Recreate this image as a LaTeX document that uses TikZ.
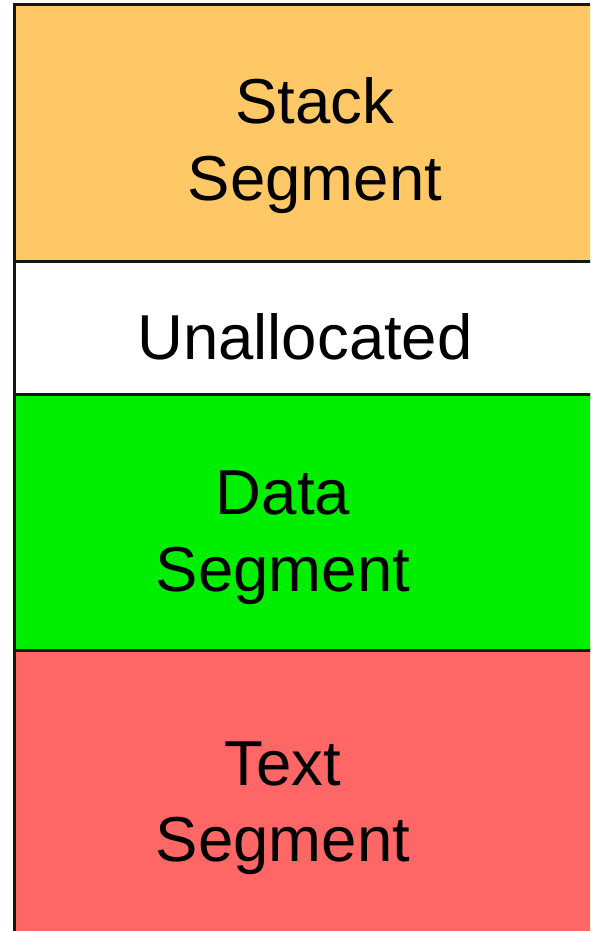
\documentclass[tikz,border=0pt]{standalone}
\usepackage{fontspec}
\setmainfont{Liberation Sans}
\definecolor{stackcol}{HTML}{FDC865}
\definecolor{datacol}{HTML}{00EE00}
\definecolor{textcol}{HTML}{FF6666}
\definecolor{edgecol}{HTML}{0F1A10}
\begin{document}
\begin{tikzpicture}[x=1pt,y=-1pt,
  edge/.style={draw=edgecol,line width=3pt},
  lbl/.style={anchor=base,inner sep=0pt,font=\fontsize{63.5}{76}\selectfont}]
\useasboundingbox (0,0) rectangle (590,931);
\clip (0,0) rectangle (590,931);
% memory segments, top to bottom: fills first
\fill[stackcol] (14.5,5) rectangle (620,261) coordinate (stack);
\fill[white] (14.5,261) rectangle (620,394) coordinate (unalloc);
\fill[datacol] (14.5,394) rectangle (620,650) coordinate (data);
\fill[textcol] (14.5,650) rectangle (620,960) coordinate (textseg);
% then the borders on top
\draw[edge] (14.5,5) rectangle (620,261);
\draw[edge] (14.5,261) rectangle (620,394);
\draw[edge] (14.5,394) rectangle (620,650);
\draw[edge] (14.5,650) rectangle (620,960);
% labels
\node[lbl] (l1) at (315,124) {Stack};
\node[lbl] (l2) at (315,200) {Segment};
\node[lbl] (l3) at (305,359) {Unallocated};
\node[lbl] (l4) at (283,514) {Data};
\node[lbl] (l5) at (283,591) {Segment};
\node[lbl] (l6) at (283,785) {Text};
\node[lbl] (l7) at (283,861) {Segment};
\end{tikzpicture}
\end{document}
